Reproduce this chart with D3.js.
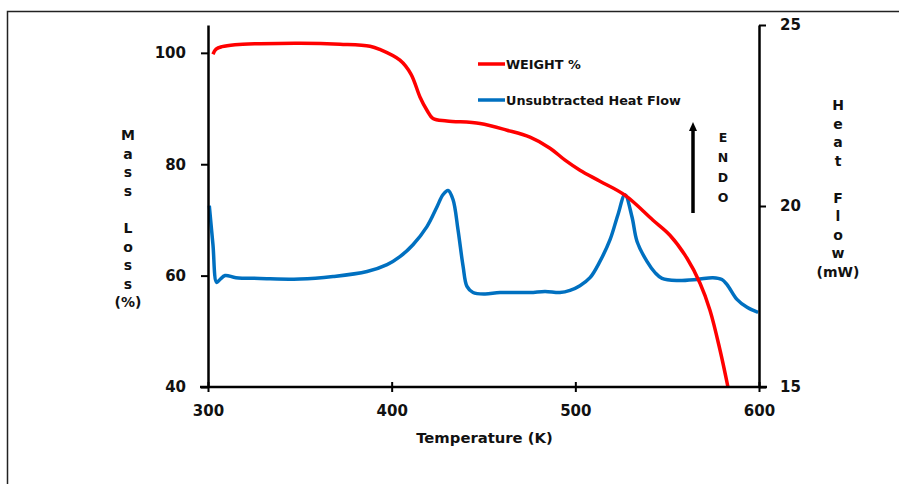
<!DOCTYPE html>
<html>
<head>
<meta charset="utf-8">
<script src="https://cdn.jsdelivr.net/npm/d3@7"></script>
<style>
  body { margin: 0; background: #fff; }
  svg text { font-family: "DejaVu Sans", Verdana, sans-serif; font-weight: bold; fill: #111; }
</style>
</head>
<body>
<svg id="chart" width="899" height="484"></svg>
<script>
// ----- Data -----
// Weight % (left axis) vs temperature (K)
const weightT = [302.7, 304.4, 307.6, 314.7, 328.3, 350.1, 371.9, 388.2, 393.6, 404.5,
  410.5, 415.4, 419.2, 422.5, 430.1, 448.1, 462.8, 475.3, 486.2, 494.4,
  502.5, 513.4, 527.0, 542.3, 551.5, 560.8, 567.9, 573.3, 578.8, 583.1];
const weightV = [99.75, 100.66, 101.11, 101.47, 101.65, 101.74, 101.56, 101.2, 100.61, 98.69,
  96.2, 92.09, 89.7, 88.21, 87.78, 87.31, 86.11, 84.85, 82.88, 80.73,
  78.93, 76.95, 74.44, 69.94, 67.25, 63.12, 58.63, 53.78, 46.6, 40.0];

// Unsubtracted heat flow (right axis, mW) vs temperature (K)
const heatT = [300.7, 302.7, 304.7, 306.5, 309.3, 315.2, 328.3, 350.1, 368.1, 386.6,
  397.5, 404.5, 411.6, 419.2, 424.7, 427.9, 430.7, 433.4, 436.1, 438.9,
  441.0, 444.3, 450.8, 459.0, 475.3, 483.5, 491.6, 497.1, 502.5, 508.0,
  513.4, 518.9, 523.2, 527.0, 530.8, 533.6, 539.0, 543.4, 547.2, 555.4,
  566.2, 574.9, 579.8, 582.6, 588.0, 593.5, 599.5];
const heatV = [20.01, 18.93, 17.89, 17.97, 18.08, 18.02, 18.0, 17.98, 18.05, 18.19,
  18.38, 18.6, 18.93, 19.43, 19.98, 20.31, 20.43, 20.18, 19.35, 18.33,
  17.78, 17.61, 17.57, 17.61, 17.61, 17.64, 17.61, 17.67, 17.8, 18.02,
  18.47, 19.07, 19.76, 20.31, 19.71, 19.02, 18.47, 18.16, 18.0, 17.94,
  17.97, 18.02, 17.97, 17.83, 17.42, 17.2, 17.06];

const xTicks = [300, 400, 500, 600];
const leftTicks = [40, 60, 80, 100];
const rightTicks = [15, 20, 25];
const leftLabel = ["M", "a", "s", "s", "", "L", "o", "s", "s", "(%)"];
const rightLabel = ["H", "e", "a", "t", "", "F", "l", "o", "w", "(mW)"];
const endoLabel = ["E", "N", "D", "O"];
const legendItems = [
  { name: "WEIGHT %", color: "#ff0000" },
  { name: "Unsubtracted Heat Flow", color: "#0070c0" }
];

// ----- Layout -----
const X0 = 208, X1 = 759, YTOP = 25, YBOT = 387;

const svg = d3.select("#chart");

// Outer frame (only top and left edges show)
svg.append("path")
  .attr("d", "M7.5,484 L7.5,11.5 L899,11.5")
  .attr("fill", "none")
  .attr("stroke", "#222")
  .attr("stroke-width", 1.5);

const x = d3.scaleLinear().domain([300, 600]).range([X0, X1]);
const yL = d3.scaleLinear().domain([40, 105]).range([YBOT, YTOP]);
const yR = d3.scaleLinear().domain([15, 25]).range([YBOT, YTOP]);

// ----- Curves -----
const smooth = d3.curveCatmullRom.alpha(0.5);
svg.append("path")
  .datum(heatT.map((t, i) => [t, heatV[i]]))
  .attr("fill", "none")
  .attr("stroke", "#0070c0")
  .attr("stroke-width", 3.5)
  .attr("stroke-linejoin", "round")
  .attr("d", d3.line().curve(smooth).x(d => x(d[0])).y(d => yR(d[1])));

svg.append("path")
  .datum(weightT.map((t, i) => [t, weightV[i]]))
  .attr("fill", "none")
  .attr("stroke", "#ff0000")
  .attr("stroke-width", 3.5)
  .attr("stroke-linejoin", "round")
  .attr("d", d3.line().curve(smooth).x(d => x(d[0])).y(d => yL(d[1])));

// ----- Axes -----
function styleAxis(g) {
  g.select(".domain").attr("stroke", "#000").attr("stroke-width", 2.5);
  g.selectAll(".tick line").attr("stroke", "#000").attr("stroke-width", 2);
  g.selectAll(".tick text")
    .attr("font-size", 15)
    .attr("font-family", "DejaVu Sans, Verdana, sans-serif")
    .attr("font-weight", "bold")
    .attr("fill", "#111");
}

const xAxisG = svg.append("g")
  .attr("transform", `translate(0,${YBOT})`)
  .call(d3.axisBottom(x).tickValues(xTicks).tickSize(5).tickSizeOuter(0).tickPadding(13))
  .call(styleAxis);
xAxisG.select(".domain").attr("d", `M${X0 - 8},0H${X1 + 8}`);
xAxisG.selectAll(".tick line").attr("y1", -5);

svg.append("g")
  .attr("transform", `translate(${X0},0)`)
  .call(d3.axisLeft(yL).tickValues(leftTicks).tickSize(7).tickSizeOuter(0).tickPadding(15))
  .call(styleAxis);

svg.append("g")
  .attr("transform", `translate(${X1},0)`)
  .call(d3.axisRight(yR).tickValues(rightTicks).tickSize(7).tickSizeOuter(0).tickPadding(14))
  .call(styleAxis);

// ----- Axis titles -----
svg.append("text")
  .attr("x", (X0 + X1) / 2 + 1)
  .attr("y", 443)
  .attr("text-anchor", "middle")
  .attr("font-size", 14.8)
  .text("Temperature (K)");

function stacked(letters, cx, y0, step, size) {
  svg.append("g").selectAll("text")
    .data(letters)
    .join("text")
    .attr("x", cx)
    .attr("y", (d, i) => y0 + i * step)
    .attr("text-anchor", "middle")
    .attr("dominant-baseline", "central")
    .attr("font-size", size)
    .text(d => d);
}
stacked(leftLabel, 128, 135, 18.6, 14);
stacked(rightLabel, 838, 105, 18.5, 14);
stacked(endoLabel, 723, 137, 20, 12.5);

// ENDO arrow
svg.append("line")
  .attr("x1", 693).attr("x2", 693)
  .attr("y1", 213).attr("y2", 130)
  .attr("stroke", "#000").attr("stroke-width", 3.5);
svg.append("path")
  .attr("d", "M693,122 L689,131 L697,131 Z")
  .attr("fill", "#000");

// ----- Legend -----
const legend = svg.append("g").selectAll("g")
  .data(legendItems)
  .join("g")
  .attr("transform", (d, i) => `translate(478,${64 + i * 36})`);
legend.append("line")
  .attr("x1", 0).attr("x2", 27)
  .attr("stroke", d => d.color)
  .attr("stroke-width", 3.5);
legend.append("text")
  .attr("x", 28)
  .attr("dy", "0.36em")
  .attr("font-family", "Liberation Sans, Arial, sans-serif")
  .attr("font-size", 12.8)
  .attr("fill", "#1a1a1a")
  .text(d => d.name);
</script>
</body>
</html>
